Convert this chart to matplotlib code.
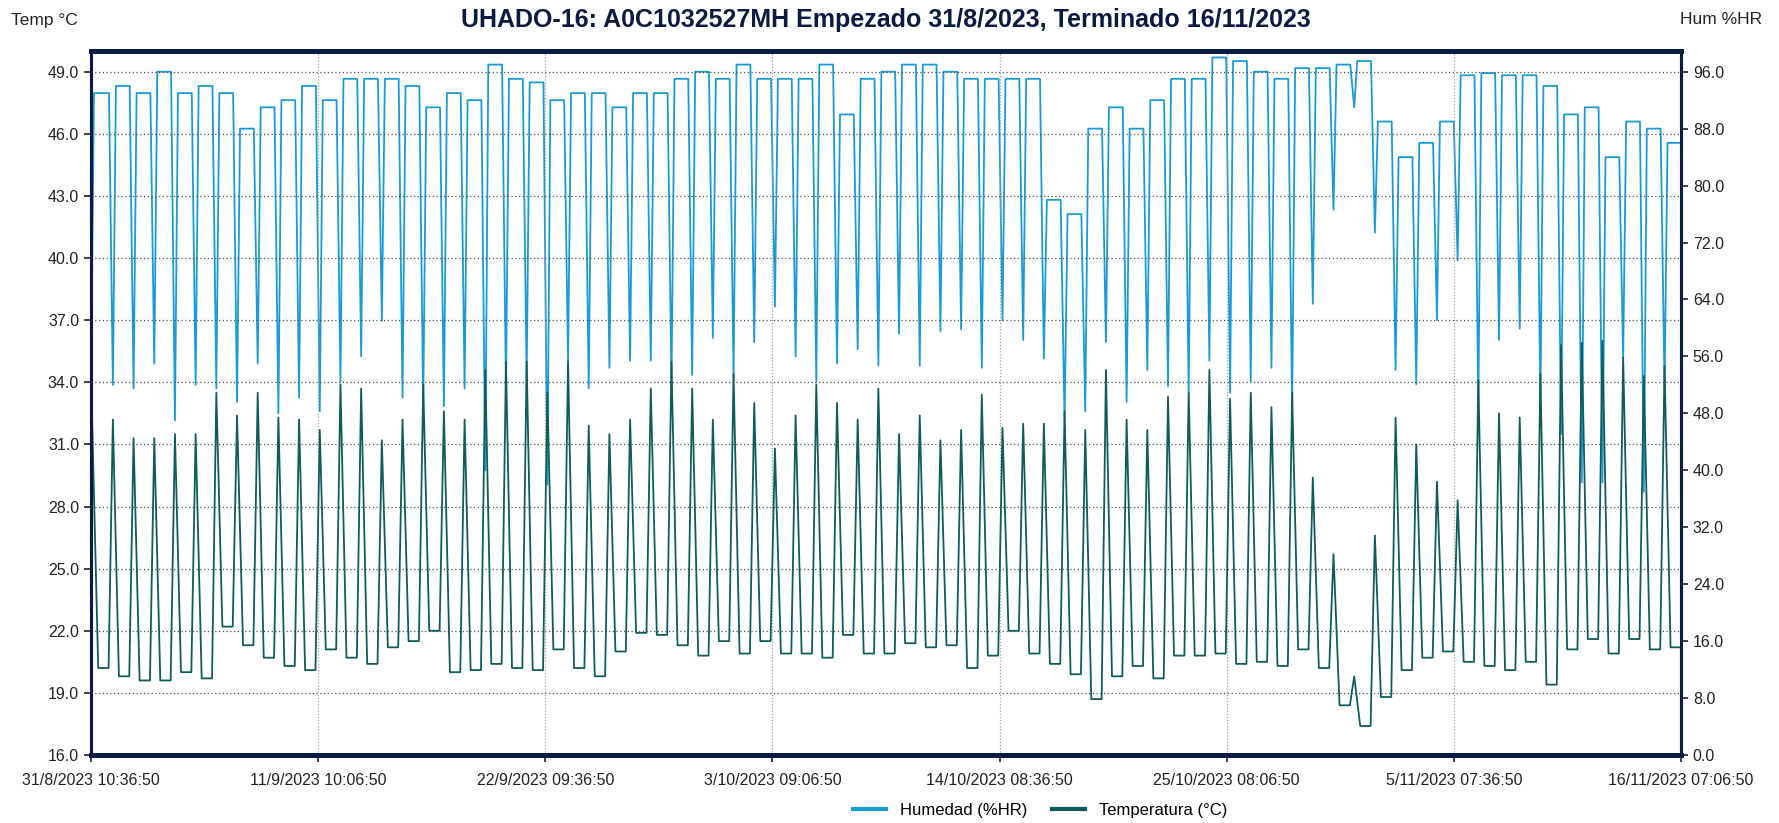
#!/usr/bin/env python3

"""Datalogger UHADO-16: temperature and humidity, 31/8/2023 - 16/11/2023."""

import matplotlib

matplotlib.use("Agg")

import matplotlib.pyplot as plt
import pandas as pd
from matplotlib.lines import Line2D

plt.rcParams["font.family"] = ["Liberation Sans", "DejaVu Sans"]

TITLE = "UHADO-16: A0C1032527MH Empezado 31/8/2023, Terminado 16/11/2023"
START = "31/8/2023 10:36:50"
END = "16/11/2023 07:06:50"
TICK_LABELS = [
    "31/8/2023 10:36:50",
    "11/9/2023 10:06:50",
    "22/9/2023 09:36:50",
    "3/10/2023 09:06:50",
    "14/10/2023 08:36:50",
    "25/10/2023 08:06:50",
    "5/11/2023 07:36:50",
    "16/11/2023 07:06:50",
]
TEMP_TICKS = [16.0, 19.0, 22.0, 25.0, 28.0, 31.0, 34.0, 37.0, 40.0, 43.0, 46.0, 49.0]
HUM_TICKS = [0.0, 8.0, 16.0, 24.0, 32.0, 40.0, 48.0, 56.0, 64.0, 72.0, 80.0, 88.0, 96.0]

# first and last readings
START_TEMP = 34.4
START_HUM = 52.0
END_TEMP = 21.2
END_HUM = 86.0

# one value per day, 1/9/2023 .. 15/11/2023
TEMP_NIGHT_MIN = [
    20.2, 19.8, 19.6, 19.6, 20.0, 19.7, 22.2, 21.3, 20.7, 20.3,
    20.1, 21.1, 20.7, 20.4, 21.2, 21.5, 22.0, 20.0, 20.1, 20.4,
    20.2, 20.1, 21.1, 20.2, 19.8, 21.0, 21.9, 21.8, 21.3, 20.8,
    21.5, 20.9, 21.5, 20.9, 20.9, 20.7, 21.8, 20.9, 20.9, 21.4,
    21.2, 21.3, 20.2, 20.8, 22.0, 20.9, 20.4, 19.9, 18.7, 19.8,
    20.3, 19.7, 20.8, 20.8, 20.9, 20.4, 20.5, 20.3, 21.1, 20.2,
    18.4, 17.4, 18.8, 20.1, 20.7, 21.0, 20.5, 20.3, 20.1, 20.5,
    19.4, 21.1, 21.6, 20.9, 21.6, 21.1,
]
TEMP_DAY_MAX = [
    32.2, 31.3, 31.3, 31.5, 31.5, 33.5, 32.4, 33.5, 32.3, 32.2,
    31.7, 33.9, 33.7, 31.2, 32.2, 33.9, 32.6, 32.2, 34.6, 35.0,
    35.0, 33.5, 35.0, 31.9, 31.5, 32.2, 33.7, 35.0, 33.7, 32.2,
    34.4, 33.0, 30.8, 32.4, 33.9, 33.0, 32.2, 33.7, 31.5, 32.4,
    31.2, 31.7, 33.4, 31.8, 32.0, 32.0, 32.6, 31.7, 34.6, 32.2,
    31.7, 33.3, 33.5, 34.6, 33.2, 33.5, 32.8, 33.5, 29.4, 25.7,
    19.8, 26.6, 32.3, 31.0, 29.2, 28.3, 34.1, 32.5, 32.3, 34.4,
    35.8, 35.9, 36.0, 35.2, 34.3, 34.8,
]
HUM_NIGHT_MAX = [
    93.0, 94.0, 93.0, 96.0, 93.0, 94.0, 93.0, 88.0, 91.0, 92.0,
    94.0, 92.0, 95.0, 95.0, 95.0, 94.0, 91.0, 93.0, 92.0, 97.0,
    95.0, 94.5, 92.0, 93.0, 93.0, 91.0, 93.0, 93.0, 95.0, 96.0,
    95.0, 97.0, 95.0, 95.0, 95.0, 97.0, 90.0, 95.0, 96.0, 97.0,
    97.0, 96.0, 95.0, 95.0, 95.0, 95.0, 78.0, 76.0, 88.0, 91.0,
    88.0, 92.0, 95.0, 95.0, 98.0, 97.5, 96.0, 95.0, 96.5, 96.5,
    97.0, 97.5, 89.0, 84.0, 86.0, 89.0, 95.5, 95.8, 95.5, 95.5,
    94.0, 90.0, 91.0, 84.0, 89.0, 88.0,
]
HUM_DAY_MIN = [
    52.0, 51.5, 55.0, 47.0, 52.0, 51.5, 49.6, 55.0, 48.0, 50.2,
    48.3, 52.5, 56.0, 61.0, 50.2, 49.0, 49.0, 51.5, 40.0, 51.5,
    52.8, 38.0, 55.4, 51.5, 54.4, 55.4, 55.4, 52.1, 53.4, 58.6,
    53.0, 58.0, 63.0, 56.0, 52.5, 55.0, 57.0, 54.7, 59.2, 54.7,
    59.5, 59.8, 54.4, 61.1, 58.3, 55.7, 47.0, 48.3, 58.0, 49.6,
    54.1, 51.8, 50.9, 55.4, 50.9, 52.5, 54.4, 48.3, 63.4, 76.6,
    91.0, 73.4, 54.1, 52.1, 61.1, 69.5, 49.0, 58.3, 59.9, 49.6,
    45.1, 38.3, 38.3, 55.7, 37.0, 51.5,
]

HUM_COLOR = "#1a9bd7"
TEMP_COLOR = "#0f5c5c"
FRAME_COLOR = "#0b1a40"
BG_COLOR = "#d5fbd3"


def build_series():
    t_start = pd.to_datetime(START, format="%d/%m/%Y %H:%M:%S")
    t_end = pd.to_datetime(END, format="%d/%m/%Y %H:%M:%S")
    first_day = t_start.normalize() + pd.Timedelta(days=1)
    hour = pd.Timedelta(hours=1)
    mins = TEMP_NIGHT_MIN + [END_TEMP]
    plateau = HUM_NIGHT_MAX + [END_HUM]

    temp_t = [t_start, t_start.normalize() + 19 * hour]
    temp_v = [START_TEMP, mins[0]]
    hum_t = [t_start, t_start.normalize() + 14 * hour]
    hum_v = [START_HUM, plateau[0]]

    for i in range(len(TEMP_DAY_MAX)):
        day = first_day + pd.Timedelta(days=i)
        temp_t += [day + 7 * hour, day + 12 * hour, day + 19 * hour]
        temp_v += [mins[i], TEMP_DAY_MAX[i], mins[i + 1]]
        hum_t += [day + 7.5 * hour, day + 12 * hour, day + 15.5 * hour]
        hum_v += [plateau[i], HUM_DAY_MIN[i], plateau[i + 1]]

    temp_t += [t_end]
    temp_v += [END_TEMP]
    hum_t += [t_end]
    hum_v += [END_HUM]
    return t_start, t_end, temp_t, temp_v, hum_t, hum_v


def main():
    t_start, t_end, temp_t, temp_v, hum_t, hum_v = build_series()
    tick_pos = pd.to_datetime(TICK_LABELS, format="%d/%m/%Y %H:%M:%S")

    fig = plt.figure(figsize=(17.79, 8.23), dpi=100)
    ax = fig.add_axes([91 / 1779, 1 - 755 / 823, 1590 / 1779, 704 / 823])
    ax2 = ax.twinx()

    # temperature drawn above humidity
    ax.set_zorder(ax2.get_zorder() + 1)
    ax.patch.set_visible(False)
    ax2.set_facecolor(BG_COLOR)

    ax2.plot(hum_t, hum_v, color=HUM_COLOR, linewidth=1.3)
    ax.plot(temp_t, temp_v, color=TEMP_COLOR, linewidth=1.3)

    ax.set_xlim(t_start, t_end)
    ax.set_ylim(16.0, 50.0)
    ax2.set_ylim(0.0, 96.0 * 34.0 / 33.0)

    ax.set_yticks(TEMP_TICKS)
    ax.set_yticklabels([f"{v:.1f}" for v in TEMP_TICKS])
    ax2.set_yticks(HUM_TICKS)
    ax2.set_yticklabels([f"{v:.1f}" for v in HUM_TICKS])
    ax.set_xticks(tick_pos)
    ax.set_xticklabels(TICK_LABELS)

    for axis in (ax, ax2):
        axis.tick_params(labelsize=11.5, labelcolor="#222222", color="#222222",
                         length=5, width=1.2, direction="out")
        for spine in axis.spines.values():
            spine.set_color(FRAME_COLOR)
            spine.set_linewidth(2.2)
        axis.spines["top"].set_linewidth(3.5)
        axis.spines["bottom"].set_linewidth(3.5)
    ax.tick_params(axis="x", pad=8)

    ax.yaxis.grid(True, color="#505050", linestyle=(0, (1, 2)), linewidth=0.9)
    ax.xaxis.grid(True, color="#a0a0a0", linestyle=(0, (1, 1.5)), linewidth=0.9)

    fig.text(886 / 1779, 1 - 20 / 823, TITLE, ha="center", va="center",
             fontsize=18, fontweight="bold", color=FRAME_COLOR)
    fig.text(11 / 1779, 1 - 20 / 823, "Temp °C", ha="left", va="center",
             fontsize=12.5, color="#222222")
    fig.text(1762 / 1779, 1 - 20 / 823, "Hum %HR", ha="right", va="center",
             fontsize=12.5, color="#222222")

    handles = [
        Line2D([], [], color=HUM_COLOR, linewidth=3),
        Line2D([], [], color=TEMP_COLOR, linewidth=3),
    ]
    fig.legend(handles, ["Humedad (%HR)", "Temperatura (°C)"], loc="center",
               bbox_to_anchor=(1040 / 1779, 1 - 810 / 823), ncol=2,
               frameon=False, fontsize=12, handlelength=2.0,
               handletextpad=0.8, columnspacing=1.5)

    fig.savefig("out.png", dpi=100)
    plt.close(fig)


if __name__ == "__main__":
    main()
